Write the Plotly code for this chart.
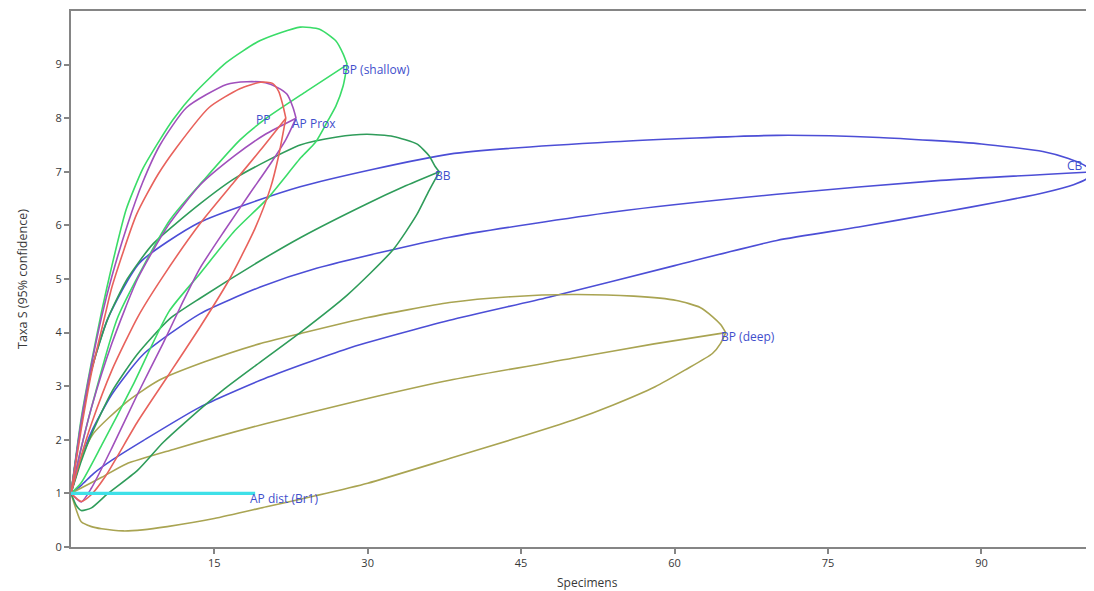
import plotly.graph_objects as go

# ---- samples: end points (specimens N, taxa S) ----
sample_names = ["AP dist (Br1)", "PP", "AP Prox", "BP (shallow)", "BB", "BP (deep)", "CB"]
sample_N = [19, 22, 23, 28, 37, 65, 101]
sample_S = [1, 8, 8, 9, 7, 4, 7]
sample_colors = ["#3fe0e8", "#e8625c", "#a050bc", "#3adc68", "#2f9c5a", "#a9a452", "#4c4ed6"]

# ---- rarefaction curves (x = specimens, y = taxa) ----
# AP dist (Br1)
apd_x = [1, 19]
apd_mean = [1, 1]

# PP
pp_up_x = [1, 2, 3, 4.3, 5, 7.4, 9.5, 11.3, 14.5, 17.5, 19.5, 20.7, 21.3, 21.7, 22]
pp_up_y = [1, 2.2, 3.25, 4.3, 4.85, 6.2, 6.95, 7.45, 8.2, 8.55, 8.67, 8.65, 8.5, 8.25, 8.0]
pp_mean_x = [1, 2, 3, 5, 7.55, 10, 13.6, 16.9, 19.5, 22]
pp_mean_y = [1, 1.7, 2.3, 3.3, 4.3, 5.05, 6.03, 6.8, 7.4, 8.0]
pp_lo_x = [1, 2, 3, 4.3, 7.55, 10.5, 13.6, 16.5, 19, 20.5, 21.3, 22]
pp_lo_y = [1, 0.85, 0.98, 1.3, 2.35, 3.2, 4.1, 5.0, 5.95, 6.7, 7.3, 8.0]

# AP Prox
app_up_x = [1, 2, 3, 4, 5, 6.5, 8, 9.7, 12.3, 16.2, 18.2, 20, 21.2, 22.1, 22.7, 23]
app_up_y = [1, 2.35, 3.4, 4.3, 5.05, 6.0, 6.8, 7.5, 8.2, 8.63, 8.68, 8.66, 8.57, 8.45, 8.2, 8.0]
app_mean_x = [1, 2, 3, 5, 7.5, 10.5, 13.6, 17, 20, 23]
app_mean_y = [1, 1.85, 2.6, 3.8, 5.0, 6.0, 6.75, 7.3, 7.7, 8.0]
app_lo_x = [1, 2, 3, 5, 7.5, 10, 12, 13.6, 16, 18.5, 20.5, 22, 23]
app_lo_y = [1, 0.84, 1.1, 1.85, 2.85, 3.8, 4.6, 5.2, 5.9, 6.6, 7.15, 7.6, 8.0]

# BP (shallow)
bps_up_x = [1, 2, 3, 4, 5, 6.4, 8, 9.7, 11, 13, 16.2, 19.5, 23.4, 25.3, 26.9, 27.6, 28]
bps_up_y = [1, 2.4, 3.45, 4.4, 5.25, 6.3, 7.05, 7.6, 7.98, 8.45, 9.04, 9.45, 9.7, 9.66, 9.44, 9.2, 9.0]
bps_mean_x = [1, 2, 3, 5.6, 10.67, 14, 17.55, 20.1, 24, 28]
bps_mean_y = [1, 1.85, 2.6, 4.3, 6.1, 6.85, 7.6, 8.0, 8.5, 9.0]
bps_lo_x = [1, 2, 4, 7, 10.6, 13.6, 17, 20.2, 23.5, 24.9, 26.1, 26.9, 27.6, 28]
bps_lo_y = [1, 1.2, 1.9, 3.0, 4.4, 5.1, 5.9, 6.5, 7.27, 7.55, 7.95, 8.23, 8.6, 9.0]

# BB
bb_up_x = [1, 2, 3, 4.6, 6.5, 9, 13.6, 17.2, 23.4, 27, 29.9, 32.5, 34.8, 36, 36.6, 37]
bb_up_y = [1, 2.3, 3.3, 4.26, 5.0, 5.65, 6.4, 6.9, 7.5, 7.65, 7.7, 7.66, 7.52, 7.3, 7.1, 7.0]
bb_mean_x = [1, 2, 3, 5, 7.5, 10.67, 13.7, 19.5, 23.5, 29.9, 33.5, 37]
bb_mean_y = [1, 1.6, 2.1, 2.9, 3.6, 4.26, 4.65, 5.34, 5.78, 6.4, 6.72, 7.0]
bb_lo_x = [1, 1.5, 2, 3, 4.5, 7.5, 10, 12.3, 16, 19.5, 23.4, 28, 32.5, 34.8, 36, 37]
bb_lo_y = [1, 0.78, 0.68, 0.73, 0.98, 1.43, 1.95, 2.35, 2.95, 3.45, 4.0, 4.7, 5.55, 6.2, 6.65, 7.0]

# BP (deep)
bpd_up_x = [1, 2, 3.2, 6.4, 9.6, 14, 19.4, 23.4, 30, 38, 44, 50, 56, 60.2, 62.5, 63.7, 64.5, 65]
bpd_up_y = [1, 1.65, 2.12, 2.7, 3.11, 3.45, 3.79, 3.98, 4.28, 4.56, 4.67, 4.71, 4.68, 4.6, 4.47, 4.3, 4.15, 4.0]
bpd_mean_x = [1, 2, 4, 6.4, 11, 20, 30, 38, 50, 58, 65]
bpd_mean_y = [1, 1.1, 1.3, 1.55, 1.82, 2.3, 2.77, 3.11, 3.52, 3.79, 4.0]
bpd_lo_x = [1, 1.5, 2, 3, 4, 6.1, 8, 10.4, 15, 20.1, 25, 30, 38, 44, 50.1, 54, 58.1, 61, 63.7, 64.5, 65]
bpd_lo_y = [1, 0.7, 0.47, 0.38, 0.34, 0.3, 0.32, 0.38, 0.53, 0.75, 0.96, 1.19, 1.65, 2.0, 2.37, 2.65, 2.99, 3.3, 3.61, 3.8, 4.0]

# CB
cb_up_x = [1, 2, 3, 4.6, 7.7, 13.5, 23.4, 38, 54, 70, 80, 90, 96, 98.5, 100, 101]
cb_up_y = [1, 2.3, 3.3, 4.26, 5.3, 6.05, 6.72, 7.33, 7.56, 7.68, 7.64, 7.52, 7.38, 7.25, 7.13, 7.0]
cb_mean_x = [1, 2, 3, 5, 8.1, 13.6, 19.5, 25, 38, 54, 70, 86, 101]
cb_mean_y = [1, 1.65, 2.15, 2.85, 3.6, 4.35, 4.85, 5.2, 5.78, 6.25, 6.58, 6.84, 7.0]
cb_lo_x = [1, 2, 3.2, 5, 8.1, 13.6, 19.5, 28, 38, 47.7, 60, 70, 78, 86, 92, 96.3, 99, 100.3, 101]
cb_lo_y = [1, 1.15, 1.37, 1.62, 1.99, 2.61, 3.11, 3.7, 4.23, 4.66, 5.25, 5.72, 5.97, 6.24, 6.45, 6.62, 6.76, 6.87, 7.0]

# axis ticks
x_ticks = [15, 30, 45, 60, 75, 90]
y_ticks = [0, 1, 2, 3, 4, 5, 6, 7, 8, 9]

curves = [
    # (x, y, color index)
    (cb_up_x, cb_up_y, 6), (cb_mean_x, cb_mean_y, 6), (cb_lo_x, cb_lo_y, 6),
    (bpd_up_x, bpd_up_y, 5), (bpd_mean_x, bpd_mean_y, 5), (bpd_lo_x, bpd_lo_y, 5),
    (bb_up_x, bb_up_y, 4), (bb_mean_x, bb_mean_y, 4), (bb_lo_x, bb_lo_y, 4),
    (bps_up_x, bps_up_y, 3), (bps_mean_x, bps_mean_y, 3), (bps_lo_x, bps_lo_y, 3),
    (app_up_x, app_up_y, 2), (app_mean_x, app_mean_y, 2), (app_lo_x, app_lo_y, 2),
    (pp_up_x, pp_up_y, 1), (pp_mean_x, pp_mean_y, 1), (pp_lo_x, pp_lo_y, 1),
]

fig = go.Figure()
for xs, ys, ci in curves:
    fig.add_trace(go.Scatter(
        x=xs, y=ys, mode="lines",
        line=dict(color=sample_colors[ci], width=1.6, shape="spline", smoothing=0.6),
        hoverinfo="skip", showlegend=False))

fig.add_trace(go.Scatter(
    x=apd_x, y=apd_mean, mode="lines",
    line=dict(color=sample_colors[0], width=3.2),
    hoverinfo="skip", showlegend=False))

# labels at the curve end points
label_shift = {
    "AP dist (Br1)": ("left", -7, -5),
    "PP": ("right", -14, -1),
    "AP Prox": ("left", -6, -5),
    "BP (shallow)": ("left", -7, -5),
    "BB": ("left", -6, -4),
    "BP (deep)": ("left", -7, -4),
    "CB": ("right", -9, 6),
}
for name, n, s in zip(sample_names, sample_N, sample_S):
    anc, xs, ys = label_shift[name]
    fig.add_annotation(x=n, y=s, text=name, showarrow=False,
                       xanchor=anc, yanchor="middle", xshift=xs, yshift=ys,
                       font=dict(family="Open Sans", size=12, color="#3f4fcc"))

axis_col = "#858585"
fig.update_xaxes(range=[1, 101], tickvals=x_ticks, ticks="outside", ticklen=5,
                 tickwidth=1.5, tickcolor=axis_col, showline=True, linecolor=axis_col,
                 linewidth=2, mirror=True, showgrid=False, zeroline=False,
                 tickfont=dict(family="Open Sans", size=11, color="#383838"))
fig.update_yaxes(range=[0, 10], tickvals=y_ticks, ticks="outside", ticklen=5,
                 tickwidth=1.5, tickcolor=axis_col, showline=True, linecolor=axis_col,
                 linewidth=2, showgrid=False, zeroline=False,
                 tickfont=dict(family="Open Sans", size=11, color="#383838"))

fig.add_annotation(xref="paper", yref="paper", x=0.505, y=-0.066, yanchor="middle",
                   text="Specimens", showarrow=False,
                   font=dict(family="Open Sans", size=12, color="#383838"))
fig.add_annotation(xref="paper", yref="paper", x=-0.048, y=0.5, xanchor="center",
                   text="Taxa S (95% confidence)", textangle=-90, showarrow=False,
                   font=dict(family="Open Sans", size=12.5, color="#383838"))

# the page body adds an 8px offset; size and margins compensate so the plot
# area spans x 71..1094 and y 11..547 in the window
fig.update_layout(width=1086, height=583, margin=dict(l=63, r=0, t=3, b=44),
                  plot_bgcolor="white", paper_bgcolor="white")

fig.write_html("out.html")
